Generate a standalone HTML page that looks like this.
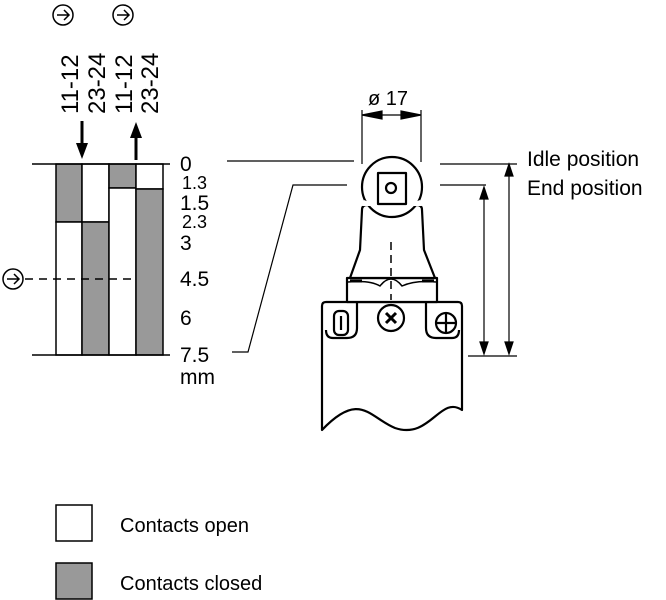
<!DOCTYPE html>
<html><head><meta charset="utf-8"><style>
html,body{margin:0;padding:0;background:#fff;}
svg{display:block;font-family:"Liberation Sans","DejaVu Sans",sans-serif;}
</style></head><body>
<svg width="666" height="600" viewBox="0 0 666 600" xmlns="http://www.w3.org/2000/svg">
<g stroke="#000" fill="none" stroke-width="1.5">
<circle cx="63" cy="15" r="10"/><path d="M57,15 H68 M64,10 L69,15 L64,20"/>
<circle cx="123" cy="15" r="10"/><path d="M117,15 H128 M124,10 L129,15 L124,20"/>
<circle cx="13" cy="279" r="10"/><path d="M7,279 H18 M14,274 L19,279 L14,284"/>
</g>
<g font-size="24" fill="#000">
<text transform="translate(78,114) rotate(-90)">11-12</text>
<text transform="translate(105,114) rotate(-90)">23-24</text>
<text transform="translate(132,114) rotate(-90)">11-12</text>
<text transform="translate(158,114) rotate(-90)">23-24</text>
</g>
<line x1="82" y1="121" x2="82" y2="145" stroke="#000" stroke-width="3"/>
<path d="M76,143 L88,143 L82,159 Z" fill="#000"/>
<line x1="136" y1="160" x2="136" y2="135" stroke="#000" stroke-width="3"/>
<path d="M130,138 L142,138 L136,122 Z" fill="#000"/>
<g stroke="#000" stroke-width="1.5">
<rect x="56" y="164" width="26" height="58" fill="#999"/>
<rect x="56" y="222" width="26" height="133" fill="#fff"/>
<rect x="82" y="164" width="27" height="58" fill="#fff"/>
<rect x="82" y="222" width="27" height="133" fill="#999"/>
<rect x="109" y="164" width="27" height="24" fill="#999"/>
<rect x="109" y="188" width="27" height="167" fill="#fff"/>
<rect x="136" y="164" width="27" height="25" fill="#fff"/>
<rect x="136" y="189" width="27" height="166" fill="#999"/>
<line x1="32" y1="164" x2="170" y2="164"/>
<line x1="32" y1="355" x2="170" y2="355"/>
<line x1="25" y1="279" x2="131" y2="279" stroke-dasharray="8,6"/>
</g>
<g font-size="21" fill="#000">
<text x="180" y="171">0</text>
<text x="182" y="189" font-size="18">1.3</text>
<text x="180" y="210">1.5</text>
<text x="182" y="228" font-size="18">2.3</text>
<text x="180" y="250">3</text>
<text x="180" y="286">4.5</text>
<text x="180" y="325">6</text>
<text x="180" y="362">7.5</text>
<text x="180" y="384">mm</text>
</g>
<g stroke="#000" stroke-width="1.2" fill="none">
<line x1="227" y1="161" x2="354" y2="161"/>
<path d="M347,185 H293 L248,352 H232"/>
<line x1="440" y1="164" x2="517" y2="164"/>
<line x1="440" y1="185" x2="486" y2="185"/>
<line x1="468" y1="356" x2="517" y2="356"/>
<line x1="484" y1="190" x2="484" y2="352"/>
<line x1="509" y1="167" x2="509" y2="352"/>
<path d="M480,199 L484,187 L488,199 Z M505,176 L509,164 L513,176 Z M480,342 L484,354 L488,342 Z M505,342 L509,354 L513,342 Z" fill="#000"/>
<line x1="362" y1="110" x2="362" y2="164"/>
<line x1="421" y1="110" x2="421" y2="162"/>
<line x1="364" y1="115" x2="419" y2="115"/>
<path d="M362,115 L382,111 L382,119 Z M421,115 L401,111 L401,119 Z" fill="#000"/>
</g>
<text x="368" y="105" font-size="20">ø 17</text>
<g stroke="#000" stroke-width="2.2" fill="#fff" stroke-linejoin="round">
<path d="M322,430 L322,306 Q322,302 326,302 L458,302 Q462,302 462,306 L462,410 C440,395 430,440 395,428 C370,418 360,390 322,430 Z"/>
<path d="M357,303 V328 Q357,338 347,338 H333 Q326,338 326,330"/>
<path d="M426,303 V328 Q426,338 436,338 H452 Q459,338 459,330"/>
<rect x="334" y="311" width="14" height="24" rx="5"/>
<line x1="341" y1="316" x2="341" y2="330"/>
<circle cx="446" cy="323" r="10"/><path d="M436,323 H456 M446,313 V333"/>
<circle cx="391" cy="318" r="13"/><path d="M386,313 L396,323 M396,313 L386,323" stroke-width="3"/>
<rect x="347" y="278" width="90" height="24"/>
<path d="M350,278 L360,250 L362,210 Q362,205 367,205 L417,205 Q422,205 422,210 L424,250 L435,278 Z"/>
<path d="M348,282 Q370,280 380,286 Q391,272 402,286 Q415,280 436,282" fill="none" stroke-width="1.5"/>
<path d="M350,281 H362 M422,281 H434" stroke-width="3"/>
<circle cx="392" cy="187" r="30"/>
<path d="M364,200 Q392,212 420,200 L422,206 H362 Z" stroke="none"/>
<rect x="378" y="173" width="28" height="31"/>
<circle cx="391" cy="188" r="5"/>
</g>
<line x1="391" y1="242" x2="391" y2="300" stroke="#000" stroke-width="1.5" stroke-dasharray="8,5"/>
<g font-size="21" fill="#000">
<text x="527" y="166">Idle position</text>
<text x="527" y="195">End position</text>
</g>
<rect x="56" y="505" width="36" height="36" fill="#fff" stroke="#000" stroke-width="1.5"/>
<rect x="56" y="563" width="36" height="36" fill="#999" stroke="#000" stroke-width="1.5"/>
<text x="120" y="532" font-size="20">Contacts open</text>
<text x="120" y="590" font-size="20">Contacts closed</text>
</svg>
</body></html>
